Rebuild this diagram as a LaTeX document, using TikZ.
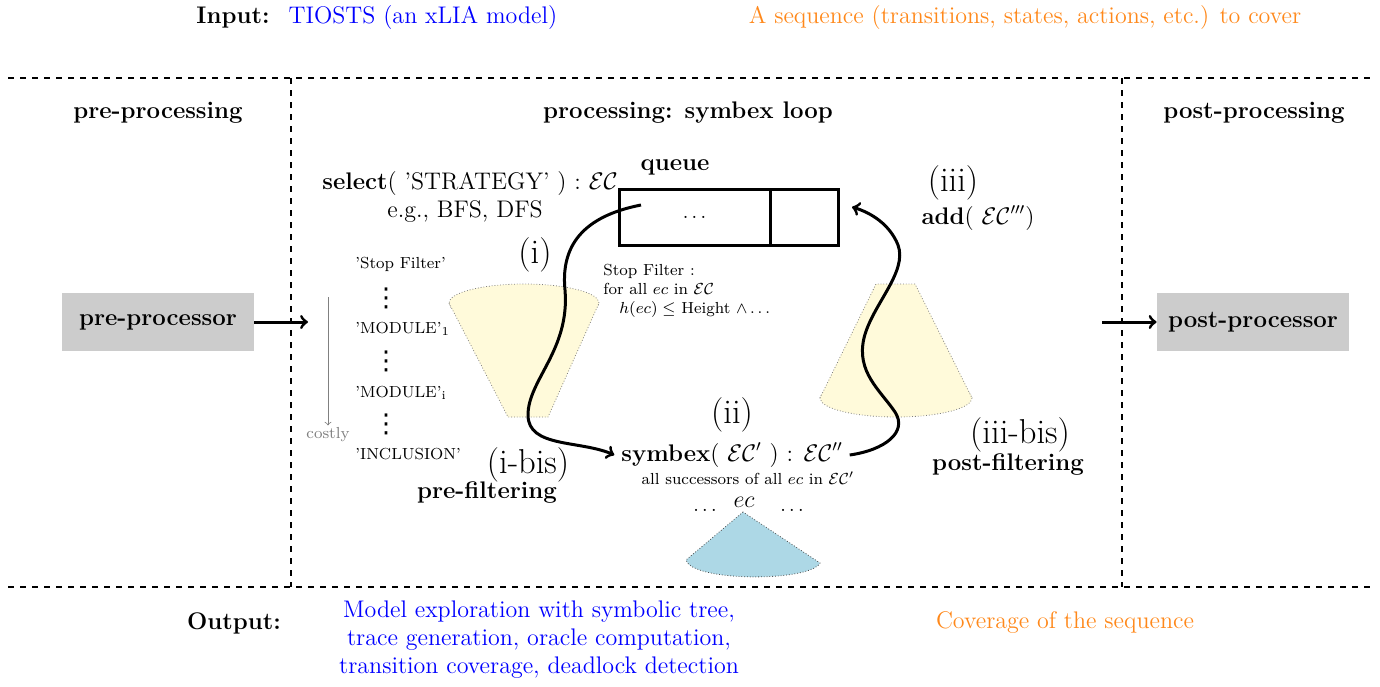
\documentclass[tikz,border=0pt]{standalone}
\usepackage{fontspec}
\newfontfamily\dotsfont{DejaVu Sans}
\usetikzlibrary{positioning}
\definecolor{seqorange}{RGB}{255,136,26}
\definecolor{coneyellow}{RGB}{255,250,218}
\definecolor{treeblue}{RGB}{173,216,230}
\begin{document}
\begin{tikzpicture}
[x=0.5pt,y=-0.5pt,>=to,
 heading/.style = {font=\large\bfseries},
 txt/.style = {font=\large},
 tiny/.style = {font=\footnotesize, inner sep=1pt},
 vdot/.style = {font=\fontsize{13}{13}\dotsfont, inner sep=0pt},
 bigl/.style = {font=\LARGE},
 procbox/.style = {fill=gray!40, minimum width=96pt, minimum height=29pt, font=\large\bfseries},
 cell/.style = {draw, line width=1.5pt, minimum height=28pt, inner sep=0pt, outer sep=0pt},
 flow/.style = {->, line width=1.5pt},
 cone/.style = {fill=coneyellow, draw=gray, densely dotted, thin},
 border/.style = {dashed, semithick},]
\useasboundingbox (0,0) rectangle (1380,686);

\node (inlbl) at (233,18)[heading] {Input:};
\node (inmodel) at (423,18)[txt,text=blue] {TIOSTS (an xLIA model)};
\node (inseq) at (1025,18)[txt,text=seqorange] {A sequence (transitions, states, actions, etc.) to cover};

\draw[border] (8,78) -- (1372,78);
\draw[border] (8,587) -- (1372,587);
\draw[border] (291,78) -- (291,587);
\draw[border] (1122,78) -- (1122,587);

\node (hpre) at (158,113)[heading] {pre-processing};
\node (hproc) at (688,113)[heading] {processing: symbex loop};
\node (hpost) at (1254,113)[heading] {post-processing};

\node (pre) at (158,322)[procbox] {pre-processor};
\node (post) at (1253,322)[procbox] {post-processor};
\coordinate (prein) at (308,322);
\coordinate (postout) at (1102,322);
\draw[flow] (pre) -- (prein);
\draw[flow] (postout) -- (post);

\fill[coneyellow] (449,303) -- (508,417) -- (548,417) -- (599,303) -- cycle;
\filldraw[cone] (524,303) ellipse [x radius=37.5pt, y radius=9.5pt];
\draw[cone] (449,303) -- (508,417) -- (548,417) -- (599,303);
\fill[coneyellow] (876,284) -- (820,398) -- (972,398) -- (915,284) -- cycle;
\filldraw[cone] (896,398) ellipse [x radius=38pt, y radius=9.5pt];
\draw[cone] (820,398) -- (876,284) -- (915,284) -- (972,398);

\filldraw[fill=treeblue, draw=black!70, densely dotted] (743,512) -- (686,560) .. controls (692,582) and (810,582) .. (820,563) -- cycle;

\node (qa) at (694.5,217)[cell,minimum width=75.5pt] {$\ldots$};
\node (qb) [cell,minimum width=34pt,right=0pt of qa] {};
\node (qlbl) at (675,167)[heading] {queue};

\node (sel) at (470,184)[txt] {\textbf{select}( 'STRATEGY' ) : $\mathcal{EC}$};
\node (eg) at (465,212)[txt] {e.g., BFS, DFS};

\node (sf) at (353,264)[tiny,anchor=west] {'Stop Filter'};
\node (d1) at (386,298)[vdot] {⋮};
\node (m1) at (353,329)[tiny,anchor=west] {'MODULE'$_1$};
\node (d2) at (386,361)[vdot] {⋮};
\node (mi) at (353,393)[tiny,anchor=west] {'MODULE'$_\mathrm{i}$};
\node (d3) at (386,424)[vdot] {⋮};
\node (inc) at (353,454)[tiny,anchor=west] {'INCLUSION'};
\coordinate (ctop) at (328,297);
\node (costly) at (328,435)[tiny,text=gray] {costly};
\draw[->,gray] (ctop) -- (costly.north);

\node (sfnote) at (603,264)[tiny,anchor=north west,align=left,inner sep=0pt] {Stop Filter :\\ for all $ec$ in $\mathcal{EC}$\\ \hspace{8pt}$h(ec) \leq$ Height $\wedge \ldots$};

\node (i) at (535,255)[bigl] {(i)};
\node (ibis) at (528,465)[bigl] {(i-bis)};
\node (prefilt) at (487,493)[heading] {pre-filtering};
\node (ii) at (732,415)[bigl] {(ii)};
\node (sym) at (732,455)[txt] {\textbf{symbex}( $\mathcal{EC}'$ ) : $\mathcal{EC}''$};
\node (succ) at (748,478)[tiny] {all successors of all $ec$ in $\mathcal{EC}'$};
\node (ec) at (744,502)[txt,inner sep=1pt] {$ec$};
\node (dl) at (705,510)[inner sep=1pt] {$\ldots$};
\node (dr) at (792,510)[inner sep=1pt] {$\ldots$};
\node (iii) at (953,183)[bigl] {(iii)};
\node (add) at (978,218)[txt] {\textbf{add}( $\mathcal{EC}'''$)};
\node (iiibis) at (1020,435)[bigl] {(iii-bis)};
\node (postfilt) at (1008,465)[heading] {post-filtering};

\coordinate (qin) at (641,205);
\coordinate (qadd) at (852,207);
\draw[flow] (qin) .. controls (590,215) and (560,240) .. (565,290) .. controls (570,350) and (528,380) .. (528,415) .. controls (528,448) and (580,440) .. (sym.west);
\draw[flow] (sym.east) .. controls (885,450) and (908,432) .. (895,412) .. controls (880,390) and (856,372) .. (864,338) .. controls (872,305) and (908,272) .. (898,245) .. controls (890,225) and (872,213) .. (qadd);

\node (outlbl) at (234,623)[heading] {Output:};
\node (outtxt) at (539,640)[txt,text=blue,align=center] {Model exploration with symbolic tree,\\ trace generation, oracle computation,\\ transition coverage, deadlock detection};
\node (outseq) at (1065,622)[txt,text=seqorange] {Coverage of the sequence};
\end{tikzpicture}
\end{document}
